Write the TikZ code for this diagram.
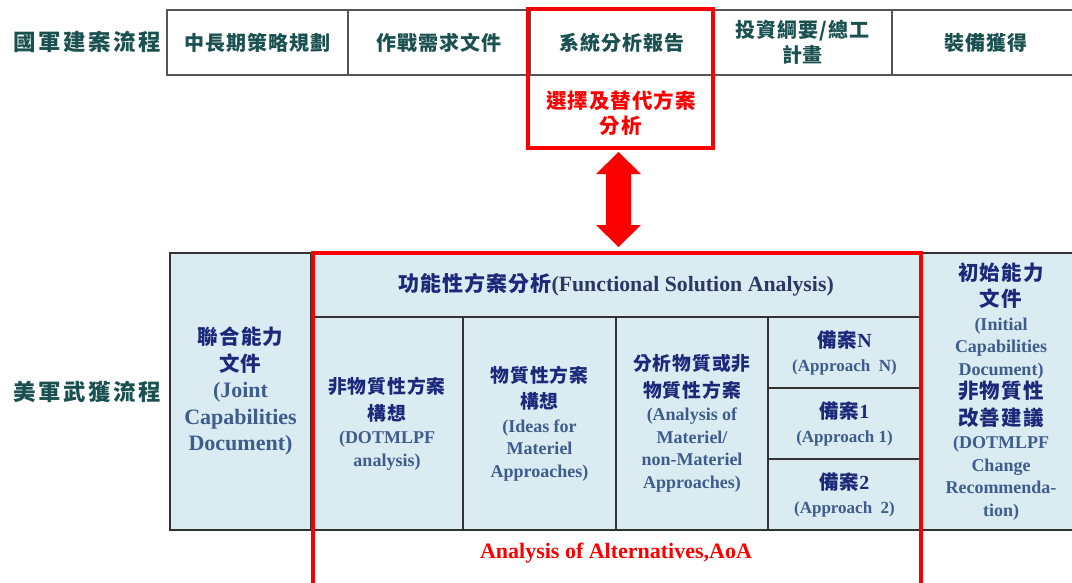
\documentclass[tikz,border=0pt]{standalone}
\usepackage{fontspec}
\setmainfont{Liberation Serif}
\newfontfamily\cjkT[LetterSpace=5]{Noto Sans CJK TC}
\newfontfamily\cjkL[LetterSpace=11]{Noto Sans CJK TC}
\newfontfamily\cjkB[LetterSpace=5]{Noto Sans CJK TC}
\usetikzlibrary{calc}
\definecolor{topc}{RGB}{26,80,80}
\definecolor{zhc}{RGB}{28,40,122}
\definecolor{engc}{RGB}{62,92,140}
\definecolor{hdrc}{RGB}{42,56,100}
\definecolor{gridg}{RGB}{85,85,85}
\definecolor{gridd}{RGB}{50,50,50}
\definecolor{cellbg}{RGB}{219,235,242}
\definecolor{redc}{RGB}{250,0,0}
\newcommand\zl[2][18.8]{\textcolor{zhc}{\cjkB\fontsize{#1}{22}\selectfont #2}}
\newcommand\zn[1]{\textcolor{zhc}{\fontsize{20}{22}\selectfont #1}}
\begin{document}
\begin{tikzpicture}[x=1pt,y=-1pt,
  tcell/.style={draw=gridg, line width=1.4pt, minimum height=65pt, inner sep=0pt, outer sep=0pt,
    text=topc, align=center, font=\fontsize{20}{25}\selectfont\cjkT\bfseries},
  sidelabel/.style={text=topc, inner sep=0pt, font=\fontsize{22.5}{24}\selectfont\cjkL\bfseries},
  bcell/.style={draw=gridd, line width=1.3pt, inner sep=0pt, outer sep=0pt, align=center,
    text=engc, font=\bfseries\fontsize{18}{22.5}\selectfont},
  redframe/.style={draw=redc, line width=3.2pt},
  redtext/.style={text=redc, inner sep=0pt, align=center}]
\useasboundingbox (0,0) rectangle (1072,582);

% ---------- top row ----------
\node[sidelabel] (gj) at (87,42) {國軍建案流程};
\node[tcell, minimum width=181pt] (c1) at (257.5,42.5) {中長期策略規劃};
\node[tcell, minimum width=182pt] (c2) at (439,42.5) {作戰需求文件};
\node[tcell, minimum width=183pt] (c3) at (621.5,42.5) {系統分析報告};
\node[tcell, minimum width=179pt] (c4) at (802.5,42.5) {投資綱要/總工\\計畫};
\node[tcell, minimum width=188pt] (c5) at (986,42.5) {裝備獲得};
\node[redframe, minimum width=185pt, minimum height=139pt, inner sep=0pt, outer sep=0pt] (sar) at (620.5,78.5) {};
\node[redtext, font=\fontsize{20.5}{25}\selectfont\cjkT\bfseries] (alt) at (621,113.5) {選擇及替代方案\\分析};

% ---------- double arrow ----------
\coordinate (arT) at (618.5,152);
\coordinate (arB) at (618.5,247);
\fill[redc, shift={(arT)}] (0,0) -- (22.5,22) -- (12.5,22) -- (12.5,73) -- (22.5,73) -- (0,95)
  -- (-22.5,73) -- (-12.5,73) -- (-12.5,22) -- (-22.5,22) -- cycle;

% ---------- bottom table ----------
\node[sidelabel] (mj) at (87,392) {美軍武獲流程};
\fill[cellbg] (170,253) rectangle (1080,530);
\node[bcell, minimum width=141pt, minimum height=277pt, font=\bfseries\fontsize{22}{26.5}\selectfont] (jcd) at (240.5,391.5)
  {\zl[20.5]{聯合能力}\\\zl[20.5]{文件}\\(Joint\\Capabilities\\Document)};
\node[bcell, minimum width=610pt, minimum height=64pt, text=hdrc, font=\bfseries\fontsize{21.8}{26}\selectfont] (fsa) at (616,285)
  {\zl[21]{功能性方案分析}(Functional Solution Analysis)};
\node[bcell, minimum width=152pt, minimum height=213pt] (dot) at (387,423.5)
  {\zl{非物質性方案}\\[4pt]\zl{構想}\\[1pt](DOTMLPF\\analysis)};
\node[bcell, minimum width=153pt, minimum height=213pt] (ima) at (539.5,423.5)
  {\zl{物質性方案}\\[4pt]\zl{構想}\\[1pt](Ideas for\\Materiel\\Approaches)};
\node[bcell, minimum width=152pt, minimum height=213pt] (anm) at (692,423.5)
  {\zl{分析物質或非}\\[4pt]\zl{物質性方案}\\[1pt](Analysis of\\Materiel/\\non-Materiel\\Approaches)};
\node[bcell, minimum width=153pt, minimum height=71pt, font=\bfseries\fontsize{17}{24}\selectfont] (apn) at (844.5,352.5)
  {\zl[19.5]{備案}\zn{N}\\(Approach\ \ N)};
\node[bcell, minimum width=153pt, minimum height=71pt, font=\bfseries\fontsize{17}{24}\selectfont] (ap1) at (844.5,423.5)
  {\zl[19.5]{備案}\zn{1}\\(Approach 1)};
\node[bcell, minimum width=153pt, minimum height=71pt, font=\bfseries\fontsize{17}{24}\selectfont] (ap2) at (844.5,494.5)
  {\zl[19.5]{備案}\zn{2}\\(Approach\ \ 2)};
\node[bcell, minimum width=160pt, minimum height=277pt, font=\bfseries\fontsize{18}{22.5}\selectfont] (icd) at (1001,391.5)
  {\zl[20.5]{初始能力}\\[4pt]\zl[20.5]{文件}\\[1pt](Initial\\Capabilities\\Document)\\[1pt]
   \zl[20.5]{非物質性}\\[4pt]\zl[20.5]{改善建議}\\[1pt](DOTMLPF\\Change\\Recommenda-\\tion)};

% ---------- AoA frame ----------
\coordinate (rbl) at (313,595);
\coordinate (rbr) at (921,595);
\draw[redframe] (rbl) -- (313,253) -- (921,253) -- (rbr);
\node[redtext, font=\bfseries\fontsize{22}{24}\selectfont] (aoa) at (616,553) {Analysis of Alternatives,AoA};
\end{tikzpicture}
\end{document}
